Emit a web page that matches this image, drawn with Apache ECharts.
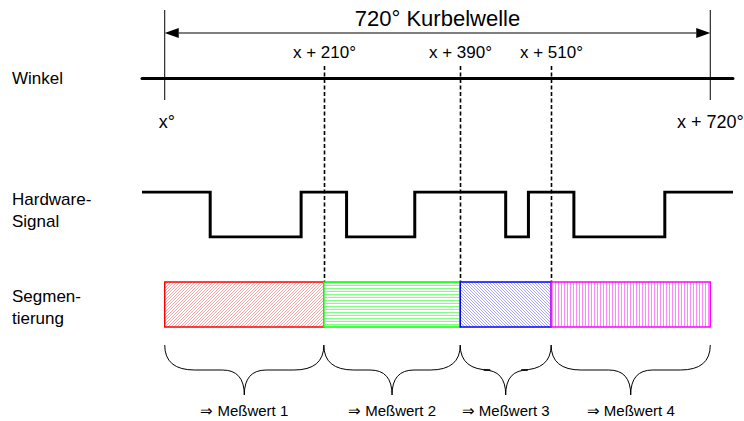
<!DOCTYPE html>
<html><head><meta charset="utf-8">
<script src="https://cdn.jsdelivr.net/npm/echarts@6/dist/echarts.min.js"></script>
<style>html,body{margin:0;padding:0;background:#fff}#c{width:744px;height:421px}</style>
</head><body><div id="c"></div>
<script>
// ---------------- data ----------------
const titleText = '720° Kurbelwelle';
const angleRange = [0, 720];
const rangeLabels = ['x°', 'x + 720°'];
const markAngles = [210, 390, 510];
const markLabels = ['x + 210°', 'x + 390°', 'x + 510°'];
const signalEdges = [-30, 60, 180, 240, 330, 450, 480, 540, 660, 750];
const signalLevels = [1, 0, 1, 0, 1, 0, 1, 0, 1];
const segmentBounds = [0, 210, 390, 510, 720];
const segmentNames = ['⇒ Meßwert 1', '⇒ Meßwert 2', '⇒ Meßwert 3', '⇒ Meßwert 4'];
const rowLabels = ['Winkel', 'Hardware-\nSignal', 'Segmen-\ntierung'];

// ---------------- layout / style ----------------
const FONT = '"Liberation Sans", Arial, Helvetica, sans-serif';
const GL = 142, GR = 11;             // grid left / right
const AXIS_Y = 78;
const rowY = [78, 210, 307];
const segColors = ['#ff0000', '#00ff00', '#0000ff', '#ff00ff'];
const segFillColors = ['#ffa8a8', '#80ff80', '#a8a8ff', '#ff88ff'];
const segKinds = ['d1', 'h', 'd2', 'v'];

function hatch(color, kind) {
  const n = 3;
  const c = document.createElement('canvas');
  c.width = n; c.height = n;
  const g = c.getContext('2d');
  g.fillStyle = '#ffffff'; g.fillRect(0, 0, n, n);
  g.fillStyle = color;
  for (let i = 0; i < n; i++) {
    if (kind === 'h') g.fillRect(i, 0, 1, 1);
    else if (kind === 'v') g.fillRect(0, i, 1, 1);
    else if (kind === 'd1') g.fillRect(i, n - 1 - i, 1, 1);
    else g.fillRect(i, i, 1, 1);
  }
  return { image: c, repeat: 'repeat' };
}

// signal polyline built from edges/levels
const signalData = [];
for (let i = 0; i < signalLevels.length; i++) {
  signalData.push([signalEdges[i], signalLevels[i]]);
  signalData.push([signalEdges[i + 1], signalLevels[i]]);
}
const segData = segmentNames.map((n, i) => [segmentBounds[i], segmentBounds[i + 1], i]);

const chart = echarts.init(document.getElementById('c'), null, { renderer: 'svg', width: 744, height: 421 });
const xMin = signalEdges[0], xMax = signalEdges[signalEdges.length - 1];

const option = {
  animation: false,
  backgroundColor: '#ffffff',
  grid: [
    { left: GL, right: GR, top: 10, height: AXIS_Y - 10 },
    { left: GL, right: GR, top: 192, height: 45 }
  ],
  xAxis: [
    { type: 'value', gridIndex: 0, min: xMin, max: xMax,
      axisLine: { show: true, onZero: false, lineStyle: { color: '#000', width: 3 } },
      axisTick: { show: false }, axisLabel: { show: false }, splitLine: { show: false } },
    { type: 'value', gridIndex: 1, min: xMin, max: xMax, show: false }
  ],
  yAxis: [
    { type: 'value', gridIndex: 0, min: 0, max: 1, show: false },
    { type: 'value', gridIndex: 1, min: 0, max: 1, show: false }
  ],
  graphic: rowLabels.map((t, i) => ({
    type: 'text', left: 12, top: rowY[i] - (t.indexOf('\n') >= 0 ? 22 : 11),
    style: { text: t, font: '17px ' + FONT, fill: '#000', lineHeight: 22 }
  })),
  series: [
    // angle range: thin boundary lines, labels, arrow and title
    { type: 'custom', xAxisIndex: 0, yAxisIndex: 0, clip: false, silent: true,
      data: [angleRange],
      renderItem: (p, api) => {
        const x0 = api.coord([api.value(0), 0])[0];
        const x1 = api.coord([api.value(1), 0])[0];
        const ay = 33, hl = 14, hw = 5;
        return { type: 'group', children: [
          { type: 'line', shape: { x1: x0, y1: 10, x2: x0, y2: 100 }, style: { stroke: '#000', lineWidth: 1 } },
          { type: 'line', shape: { x1: x1, y1: 10, x2: x1, y2: 100 }, style: { stroke: '#000', lineWidth: 1 } },
          { type: 'line', shape: { x1: x0 + hl, y1: ay, x2: x1 - hl, y2: ay }, style: { stroke: '#000', lineWidth: 1 } },
          { type: 'polygon', shape: { points: [[x0, ay], [x0 + hl, ay - hw], [x0 + hl, ay + hw]] }, style: { fill: '#000' } },
          { type: 'polygon', shape: { points: [[x1, ay], [x1 - hl, ay - hw], [x1 - hl, ay + hw]] }, style: { fill: '#000' } },
          { type: 'text', style: { x: (x0 + x1) / 2, y: 18, text: titleText, font: '22px ' + FONT, fill: '#000', align: 'center', verticalAlign: 'middle' } },
          { type: 'text', style: { x: x0 + 2, y: 122, text: rangeLabels[0], font: '18px ' + FONT, fill: '#000', align: 'center', verticalAlign: 'middle' } },
          { type: 'text', style: { x: x1, y: 122, text: rangeLabels[1], font: '18px ' + FONT, fill: '#000', align: 'center', verticalAlign: 'middle' } }
        ] };
      } },
    // dashed marker lines
    { type: 'custom', xAxisIndex: 0, yAxisIndex: 0, clip: false, silent: true,
      data: markAngles.map((a, i) => [a, i]),
      renderItem: (p, api) => {
        const x = Math.round(api.coord([api.value(0), 0])[0]) + 0.5;
        return { type: 'group', children: [
          { type: 'line', shape: { x1: x, y1: 66, x2: x, y2: 283 }, style: { stroke: '#000', lineWidth: 1.6, lineDash: [4, 2.5] } },
          { type: 'text', style: { x: x, y: 52, text: markLabels[api.value(1)], font: '17px ' + FONT, fill: '#000', align: 'center', verticalAlign: 'middle' } }
        ] };
      } },
    // hardware signal
    { type: 'line', xAxisIndex: 1, yAxisIndex: 1, data: signalData, symbol: 'none', silent: true,
      lineStyle: { color: '#000', width: 3, join: 'miter', cap: 'butt' } },
    // segmentation blocks
    { type: 'custom', xAxisIndex: 0, yAxisIndex: 0, clip: false, silent: true,
      data: segData,
      renderItem: (p, api) => {
        const i = api.value(2);
        const x0 = api.coord([api.value(0), 0])[0];
        const x1 = api.coord([api.value(1), 0])[0];
        return { type: 'rect', shape: { x: x0, y: 282, width: x1 - x0, height: 45 },
          style: { fill: hatch(segFillColors[i], segKinds[i]), stroke: segColors[i], lineWidth: 1.5 } };
      } },
    // braces + labels
    { type: 'custom', xAxisIndex: 0, yAxisIndex: 0, clip: false, silent: true,
      data: segData,
      renderItem: (p, api) => {
        const i = api.value(2);
        const x0 = api.coord([api.value(0), 0])[0];
        const x1 = api.coord([api.value(1), 0])[0];
        const xc = (x0 + x1) / 2, top = 345, mid = 370, tip = 395;
        const r1 = 30, r2 = 22;
        const d = `M${x0},${top} Q${x0},${mid} ${x0 + r1},${mid} L${xc - r2},${mid} Q${xc},${mid} ${xc},${tip} ` +
                  `Q${xc},${mid} ${xc + r2},${mid} L${x1 - r1},${mid} Q${x1},${mid} ${x1},${top}`;
        return { type: 'group', children: [
          { type: 'path', shape: { pathData: d }, style: { fill: null, stroke: '#000', lineWidth: 1 } },
          { type: 'text', style: { x: xc, y: 410, text: segmentNames[i], font: '15px ' + FONT, fill: '#000', align: 'center', verticalAlign: 'middle' } }
        ] };
      } }
  ]
};
chart.setOption(option);
</script>
</body></html>
